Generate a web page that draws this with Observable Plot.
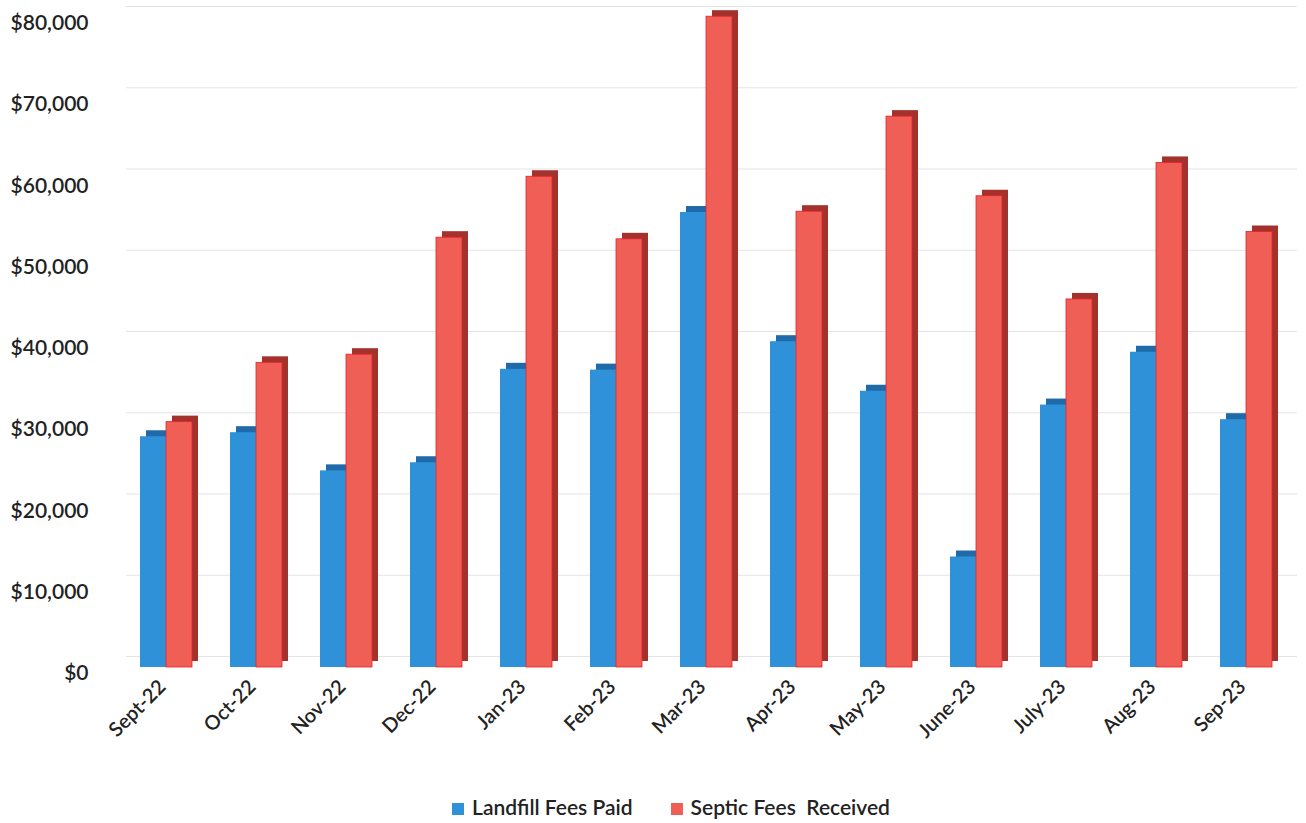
<!DOCTYPE html>
<html>
<head>
<meta charset="utf-8">
<script src="https://cdn.jsdelivr.net/npm/d3@7"></script>
<script src="https://cdn.jsdelivr.net/npm/@observablehq/plot@0.6"></script>
<style>
  body { margin: 0; background: #fff; font-family: Lato, "Open Sans", sans-serif; }
  #legend { display: flex; justify-content: center; align-items: center; gap: 38px; font-size: 21px; font-weight: 600; color: #222; height: 53px; margin-top: 10px; margin-left: 36px; }
  #legend span.sw { display: inline-block; width: 12px; height: 12px; margin-right: 8px; vertical-align: 0px; }
</style>
</head>
<body>
<div id="chart"></div>
<div id="legend"></div>
<script>
const months = ["Sept-22","Oct-22","Nov-22","Dec-22","Jan-23","Feb-23","Mar-23","Apr-23","May-23","June-23","July-23","Aug-23","Sep-23"];
const landfill = [28400, 28900, 24200, 25200, 36700, 36600, 56000, 40100, 34000, 13600, 32300, 38800, 30500];
const septic   = [30200, 37500, 38500, 52900, 60400, 52700, 80100, 56100, 67800, 58000, 45300, 62100, 53600];
const seriesNames = ["Landfill Fees Paid", "Septic Fees  Received"];
const yTicks = [0, 10000, 20000, 30000, 40000, 50000, 60000, 70000, 80000];

const colors = {front: ["#2f92d8", "#ef5f55"], side: ["#1f6aa8", "#a3322d"], top: ["#2a7dbd", "#c2453d"]};

const lf = months.map((m, i) => ({month: m, value: landfill[i]}));
const sp = months.map((m, i) => ({month: m, value: septic[i]}));

const D = 6; // depth offset in px
const fmt = d => "$" + d3.format(",")(d);

const chart = Plot.plot({
  width: 1306,
  height: 770,
  marginLeft: 120,
  marginRight: 15,
  marginTop: 17,
  marginBottom: 103,
  style: {fontFamily: "Lato, 'Open Sans', sans-serif", background: "#fff"},
  x: {domain: months, padding: 0, label: null},
  y: {domain: [0, 80000], label: null},
  marks: [
    Plot.ruleY(yTicks, {stroke: "#e4e4e4", strokeWidth: 1.2, dy: -11, dx: 6}),
    Plot.axisY({ticks: yTicks, tickFormat: fmt, tickSize: 0, tickPadding: 32, fontSize: 21, fontWeight: 600, fill: "#222", dy: 6, label: null}),
    Plot.axisX({tickRotate: -45, tickSize: 0, tickPadding: 16, fontSize: 20, fontWeight: 600, fill: "#222", label: null, dx: -4}),
    // Landfill: depth (side/top) then front
    Plot.barY(lf, {x: "month", y: "value", insetLeft: 19, insetRight: 45, fill: colors.side[0], dx: D, dy: -D}),
    Plot.barY(lf, {x: "month", y: "value", insetLeft: 19, insetRight: 45, fill: colors.front[0]}),
    // Septic: depth then front
    Plot.barY(sp, {x: "month", y: "value", insetLeft: 45, insetRight: 19, fill: colors.side[1], dx: D, dy: -D}),
    Plot.barY(sp, {x: "month", y: "value", insetLeft: 45, insetRight: 19, fill: colors.front[1], stroke: "#e8202a", strokeWidth: 0.8})
  ]
});
document.getElementById("chart").appendChild(chart);

const legend = document.getElementById("legend");
seriesNames.forEach((name, i) => {
  const item = document.createElement("div");
  item.innerHTML = `<span class="sw" style="background:${colors.front[i]}"></span>${name.replace(/  /g, " &nbsp;")}`;
  legend.appendChild(item);
});
</script>
</body>
</html>
